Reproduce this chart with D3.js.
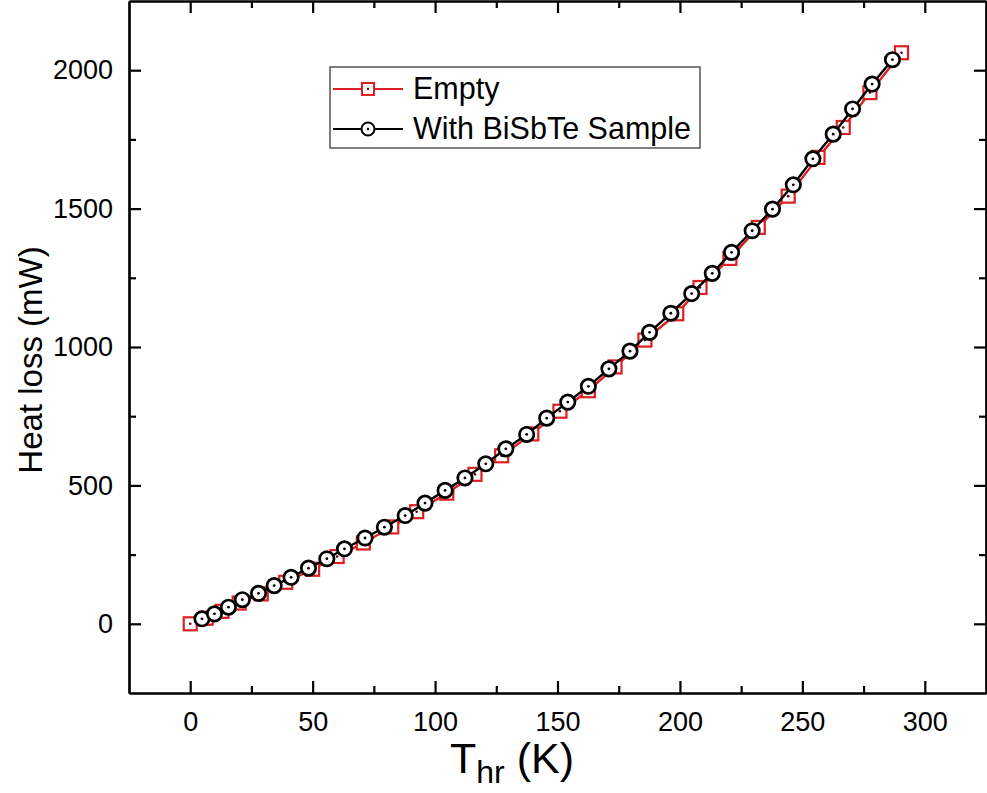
<!DOCTYPE html>
<html>
<head>
<meta charset="utf-8">
<script src="https://cdn.jsdelivr.net/npm/d3@7"></script>
<style>
  body { margin: 0; background: #fff; }
  svg { display: block; font-family: "Liberation Sans", Arial, sans-serif; }
</style>
</head>
<body>
<div id="chart-area"></div>
<script>

// data
var emptyT = [0, 6.5, 13, 20, 29, 39, 50, 60, 70.7, 82.3, 92.5, 104.8, 116.3, 127.2, 139.5,
  151, 162.6, 173.5, 185.7, 198.7, 208.2, 220.4, 232, 244.2, 256.4, 266.7, 277.6, 290.5];
var emptyQ = [0, 20, 45, 75, 108, 150, 197, 243, 292, 350, 405, 472, 540, 607, 686,
  768, 842, 928, 1025, 1120, 1215, 1320, 1432, 1545, 1685, 1793, 1919, 2063];

var sampleT = [4.8, 9.9, 15.6, 21.3, 27.9, 34.3, 41.2, 48.3, 55.8, 63.0, 71.4, 79.3, 87.8,
  95.9, 104.1, 112.2, 120.7, 128.9, 137.4, 145.6, 154.2, 162.6, 171.0, 179.6, 187.6, 196.3,
  204.8, 213.2, 221.1, 229.5, 237.8, 246.3, 254.3, 262.6, 270.5, 278.5, 286.8];
var sampleQ = [18, 36, 60, 87, 110, 138, 168, 201, 235, 271, 310, 349, 391,
  436, 482, 527, 578, 632, 684, 743, 801, 858, 921, 985, 1053, 1122,
  1193, 1266, 1342, 1420, 1498, 1586, 1680, 1769, 1860, 1950, 2038];

var xTicks = [0, 50, 100, 150, 200, 250, 300];
var xMinor = [25, 75, 125, 175, 225, 275];
var yTicks = [0, 500, 1000, 1500, 2000];
var yMinor = [250, 750, 1250, 1750];

var seriesNames = ["Empty", "With BiSbTe Sample"];

var red = "#dc1f22";

var W = 987, H = 793;
var plot = {left: 129, right: 986, top: 1, bottom: 693};

var svg = d3.select("#chart-area").append("svg")
    .attr("width", W)
    .attr("height", H);

var x = d3.scaleLinear().domain([-25, 325]).range([plot.left, plot.right]);
var y = d3.scaleLinear().domain([-250, 2250]).range([plot.bottom, plot.top]);

var emptyData = emptyT.map(function(t, i) { return {t: t, q: emptyQ[i]}; });
var sampleData = sampleT.map(function(t, i) { return {t: t, q: sampleQ[i]}; });

// axes, ticks pointing inward on all four sides
function styleAxis(g) {
  g.select(".domain").attr("stroke", "#000").attr("stroke-width", 2.2);
  g.selectAll(".tick line").attr("stroke", "#000").attr("stroke-width", 2.2);
  g.selectAll("text").attr("fill", "#000").attr("font-size", 27)
    .attr("font-family", "Liberation Sans, Arial, sans-serif");
}

function addAxis(axisFn, scale, pos, ticks, size, labels, pad) {
  var a = axisFn(scale).tickValues(ticks).tickSize(size).tickSizeOuter(0);
  if (labels) a.tickFormat(d3.format("d")).tickPadding(pad);
  else a.tickFormat("");
  var horiz = (axisFn === d3.axisBottom || axisFn === d3.axisTop);
  svg.append("g")
      .attr("transform", horiz ? "translate(0," + pos + ")" : "translate(" + pos + ",0)")
      .call(a)
      .call(styleAxis);
}

addAxis(d3.axisBottom, x, plot.bottom, xTicks, -12, true, 19);
addAxis(d3.axisBottom, x, plot.bottom, xMinor, -7, false);
addAxis(d3.axisTop, x, plot.top, xTicks, -12, false);
addAxis(d3.axisTop, x, plot.top, xMinor, -7, false);
addAxis(d3.axisLeft, y, plot.left, yTicks, -12, true, 16);
addAxis(d3.axisLeft, y, plot.left, yMinor, -7, false);
addAxis(d3.axisRight, y, plot.right, yTicks, -12, false);
addAxis(d3.axisRight, y, plot.right, yMinor, -7, false);

// lines
var line = d3.line()
    .x(function(d) { return x(d.t); })
    .y(function(d) { return y(d.q); });

svg.append("path")
    .datum(emptyData)
    .attr("fill", "none")
    .attr("stroke", red)
    .attr("stroke-width", 2.4)
    .attr("d", line);

var sq = 13;
svg.selectAll(".sq")
    .data(emptyData)
  .enter().append("rect")
    .attr("class", "sq")
    .attr("x", function(d) { return x(d.t) - sq / 2; })
    .attr("y", function(d) { return y(d.q) - sq / 2; })
    .attr("width", sq)
    .attr("height", sq)
    .attr("fill", "#fff")
    .attr("stroke", red)
    .attr("stroke-width", 2.2);
svg.selectAll(".sqdot")
    .data(emptyData)
  .enter().append("circle")
    .attr("class", "sqdot")
    .attr("cx", function(d) { return x(d.t); })
    .attr("cy", function(d) { return y(d.q); })
    .attr("r", 1.3)
    .attr("fill", "#600");

svg.append("path")
    .datum(sampleData)
    .attr("fill", "none")
    .attr("stroke", "#000")
    .attr("stroke-width", 2.4)
    .attr("d", line);

svg.selectAll(".circ")
    .data(sampleData)
  .enter().append("circle")
    .attr("class", "circ")
    .attr("cx", function(d) { return x(d.t); })
    .attr("cy", function(d) { return y(d.q); })
    .attr("r", 7.2)
    .attr("fill", "#fff")
    .attr("stroke", "#000")
    .attr("stroke-width", 2.7);
svg.selectAll(".cdot")
    .data(sampleData)
  .enter().append("circle")
    .attr("class", "cdot")
    .attr("cx", function(d) { return x(d.t); })
    .attr("cy", function(d) { return y(d.q); })
    .attr("r", 1.4)
    .attr("fill", "#000");

// legend
var legend = svg.append("g");
legend.append("rect")
    .attr("x", 330).attr("y", 67)
    .attr("width", 370).attr("height", 81)
    .attr("fill", "#fff")
    .attr("stroke", "#555")
    .attr("stroke-width", 1.5);

var legY = [89, 129];
// Empty
legend.append("line")
    .attr("x1", 333).attr("x2", 403).attr("y1", legY[0]).attr("y2", legY[0])
    .attr("stroke", red).attr("stroke-width", 2.2);
legend.append("rect")
    .attr("x", 368 - 6).attr("y", legY[0] - 6).attr("width", 12).attr("height", 12)
    .attr("fill", "#fff").attr("stroke", red).attr("stroke-width", 2);
legend.append("circle")
    .attr("cx", 368).attr("cy", legY[0]).attr("r", 1.2).attr("fill", "#600");
// With sample
legend.append("line")
    .attr("x1", 333).attr("x2", 403).attr("y1", legY[1]).attr("y2", legY[1])
    .attr("stroke", "#000").attr("stroke-width", 2.2);
legend.append("circle")
    .attr("cx", 368).attr("cy", legY[1]).attr("r", 6.5)
    .attr("fill", "#fff").attr("stroke", "#000").attr("stroke-width", 2);
legend.append("circle")
    .attr("cx", 368).attr("cy", legY[1]).attr("r", 1.2).attr("fill", "#000");

legend.selectAll(".legtext")
    .data(seriesNames)
  .enter().append("text")
    .attr("class", "legtext")
    .attr("x", 413)
    .attr("y", function(d, i) { return legY[i] + 10; })
    .attr("font-size", 30.5)
    .attr("fill", "#000")
    .text(function(d) { return d; });

// axis titles
svg.append("text")
    .attr("transform", "translate(42,360) rotate(-90)")
    .attr("text-anchor", "middle")
    .attr("font-size", 33)
    .attr("fill", "#000")
    .text("Heat loss (mW)");

var xt = svg.append("text")
    .attr("x", 512)
    .attr("y", 773)
    .attr("text-anchor", "middle")
    .attr("font-size", 43)
    .attr("fill", "#000");
xt.append("tspan").text("T");
xt.append("tspan").attr("font-size", 32).attr("dy", 10).text("hr");
xt.append("tspan").attr("dy", -10).text(" (K)");

</script>
</body>
</html>
